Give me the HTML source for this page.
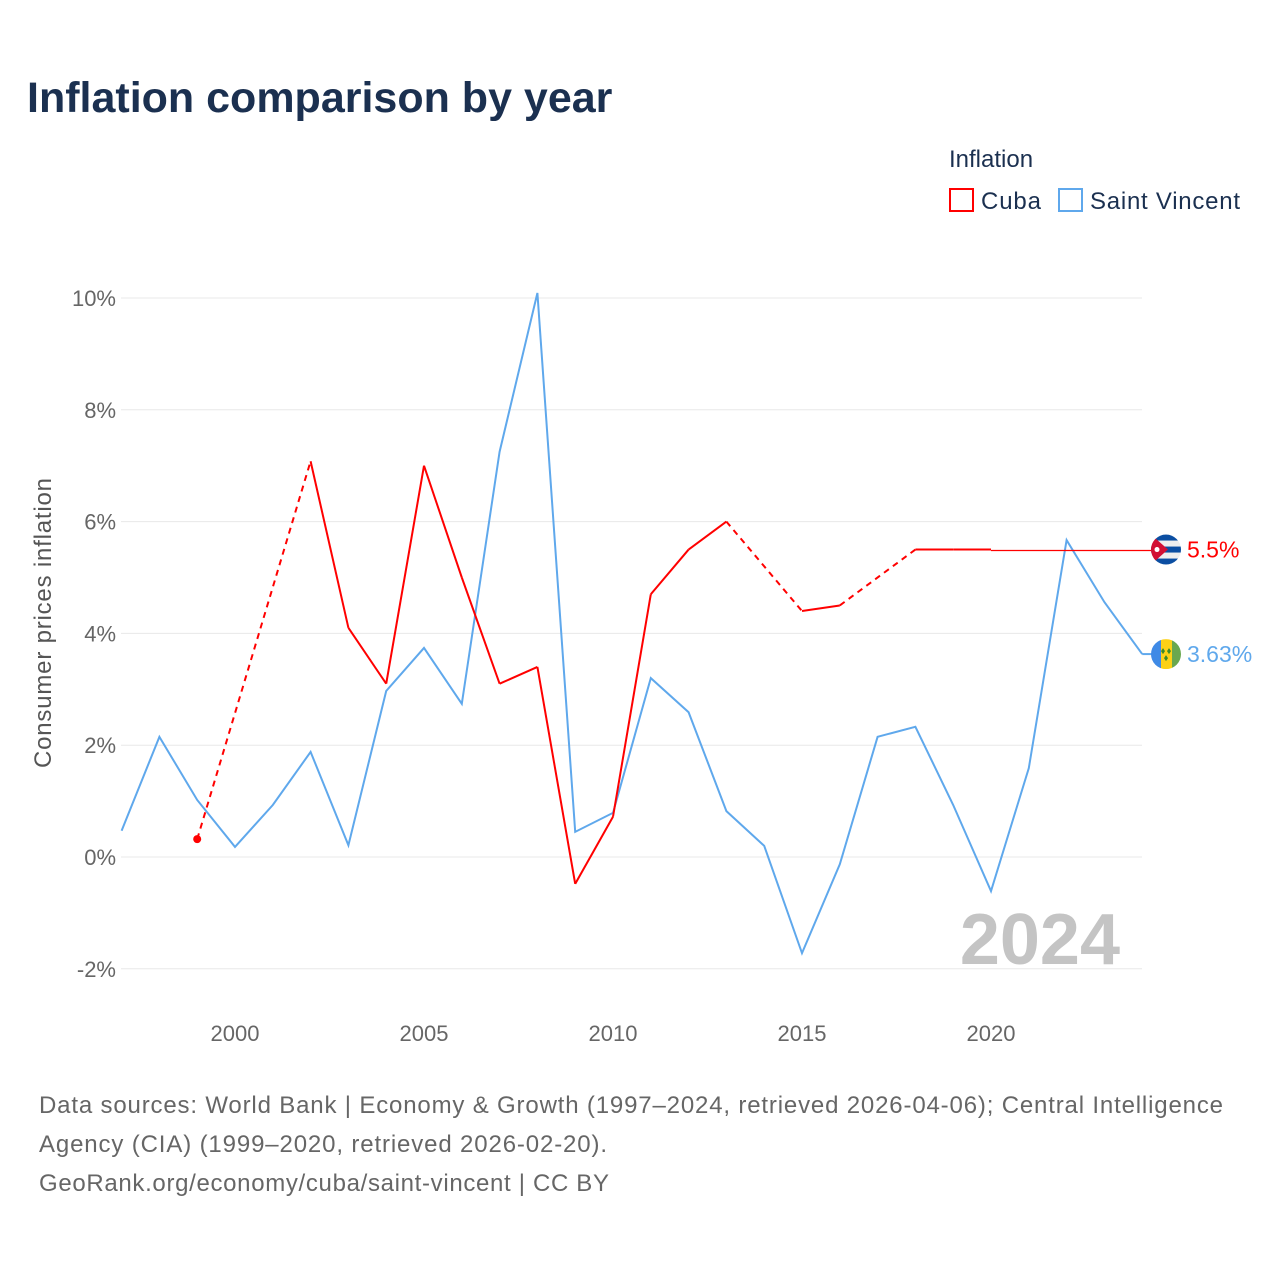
<!DOCTYPE html>
<html><head><meta charset="utf-8">
<style>
body{margin:0;background:#fff;font-family:"Liberation Sans",sans-serif;}
svg{display:block}
</style></head>
<body>
<svg id="chart" width="1280" height="1280" viewBox="0 0 1280 1280">
<text x="27" y="112" font-size="43" font-weight="bold" fill="#1b3050">Inflation comparison by year</text>
<text x="949" y="167" font-size="24" fill="#1b3050">Inflation</text>
<g><rect x="950" y="189" width="23" height="22" fill="none" stroke="#f00" stroke-width="2"/><text x="981" y="209" font-size="24" fill="#1b3050" textLength="60">Cuba</text></g>
<g><rect x="1059" y="189" width="23" height="22" fill="none" stroke="#5fa8ec" stroke-width="2"/><text x="1090" y="209" font-size="24" fill="#1b3050" textLength="150">Saint Vincent</text></g>
<text transform="translate(51,623) rotate(-90)" text-anchor="middle" font-size="24" fill="#555" textLength="290">Consumer prices inflation</text>
<g id="grid"></g><g id="marks"></g>
<text x="1120" y="964" text-anchor="end" font-size="72" font-weight="bold" fill="#c4c4c4">2024</text>
<g font-size="24" fill="#666">
<text x="39" y="1113" textLength="1184">Data sources: World Bank | Economy &amp; Growth (1997–2024, retrieved 2026-04-06); Central Intelligence</text>
<text x="39" y="1152" textLength="568">Agency (CIA) (1999–2020, retrieved 2026-02-20).</text>
<text x="39" y="1191" textLength="570">GeoRank.org/economy/cuba/saint-vincent | CC BY</text>
</g>
</svg>
<script>
const years=[1997,1998,1999,2000,2001,2002,2003,2004,2005,2006,2007,2008,2009,2010,2011,2012,2013,2014,2015,2016,2017,2018,2019,2020,2021,2022,2023,2024];
const svgValues=[0.47,2.15,1.02,0.18,0.93,1.88,0.21,2.97,3.74,2.74,7.25,10.09,0.45,0.79,3.2,2.59,0.82,0.2,-1.72,-0.13,2.15,2.33,0.93,-0.61,1.59,5.67,4.56,3.63];
const cubaValues=[null,null,0.32,null,null,7.08,4.1,3.1,7.0,5.0,3.1,3.4,-0.48,0.72,4.7,5.5,6.0,null,4.4,4.5,null,5.5,5.5,5.5,null,null,null,null];
const yTicks=[-2,0,2,4,6,8,10];
const yTickLabels=["-2%","0%","2%","4%","6%","8%","10%"];
const xTicks=[2000,2005,2010,2015,2020];
const NS="http://www.w3.org/2000/svg";
const X=y=>235+(y-2000)*37.8;
const Y=v=>857-v*55.9;
function el(tag,attrs,parent){const e=document.createElementNS(NS,tag);for(const k in attrs)e.setAttribute(k,attrs[k]);parent.appendChild(e);return e;}
const grid=document.getElementById('grid'),marks=document.getElementById('marks');
yTicks.forEach((t,i)=>{
 const l=el('line',{x1:121,x2:1142,y1:Y(t),y2:Y(t),stroke:'#e8e8e8','stroke-width':1},grid);
 
 
 const tx=el('text',{x:116,y:Y(t)+8,'text-anchor':'end','font-size':22,fill:'#666'},grid);
 tx.textContent=yTickLabels[i];
 
 
});
xTicks.forEach(t=>{
 const tx=el('text',{x:X(t),y:1041,'text-anchor':'middle','font-size':22,fill:'#666'},grid);
 tx.textContent=t;
 
 
});
const sv=el('polyline',{points:years.map((y,i)=>X(y)+','+Y(svgValues[i])).join(' '),fill:'none',stroke:'#5fa8ec','stroke-width':2},marks);


const pts=[];years.forEach((y,i)=>{if(cubaValues[i]!==null)pts.push([i,X(y),Y(cubaValues[i])]);});
for(let k=1;k<pts.length;k++){
 const a=pts[k-1],b=pts[k];
 const gap=b[0]-a[0]>1;
 const s=el('line',{x1:a[1],y1:a[2],x2:b[1],y2:b[2],stroke:'#f00','stroke-width':2,'stroke-dasharray':gap?'6,5':'none'},marks);
 
 
}
const first=pts[0];
const dot=el('circle',{cx:first[1],cy:first[2],r:4,fill:'#f00'},marks);


const last=pts[pts.length-1];
const ly=Math.round(last[2])+0.5;
const ext=el('line',{x1:last[1],y1:ly,x2:1152,y2:ly,stroke:'#ff0000','stroke-width':1.2},marks);


const svLast=svgValues[svgValues.length-1];
const svExt=el('line',{x1:X(2024),y1:Y(svLast),x2:1152,y2:Y(svLast),stroke:'#5fa8ec','stroke-width':2},marks);


function cubaFlag(cx,cy){
 const g=el('g',{},marks);
 
 
 const cp=el('clipPath',{id:'cc'},g);el('circle',{cx,cy,r:15},cp);
 const gg=el('g',{'clip-path':'url(#cc)'},g);
 el('rect',{x:cx-15,y:cy-15,width:30,height:30,fill:'#eee'},gg);
 [-15,-3,9].forEach(o=>el('rect',{x:cx-15,y:cy+o,width:30,height:6,fill:'#0b4ea2'},gg));
 el('polygon',{points:`${cx-15},${cy-15} ${cx+2},${cy} ${cx-15},${cy+15}`,fill:'#d21034'},gg);
 el('circle',{cx:cx-9,cy,r:2.5,fill:'#fff'},gg);
}
function svFlag(cx,cy){
 const g=el('g',{},marks);
 
 
 const cp=el('clipPath',{id:'sc'},g);el('circle',{cx,cy,r:15},cp);
 const gg=el('g',{'clip-path':'url(#sc)'},g);
 el('rect',{x:cx-15,y:cy-15,width:10,height:30,fill:'#3f8ae6'},gg);
 el('rect',{x:cx-5,y:cy-15,width:11,height:30,fill:'#fcd116'},gg);
 el('rect',{x:cx+6,y:cy-15,width:10,height:30,fill:'#6aa84f'},gg);
 [[-3,-3],[3,-3],[0,4]].forEach(d=>el('polygon',{points:`${cx+d[0]},${cy+d[1]-3} ${cx+d[0]+2},${cy+d[1]} ${cx+d[0]},${cy+d[1]+3} ${cx+d[0]-2},${cy+d[1]}`,fill:'#3a8a2a'},gg));
}
cubaFlag(1166,Y(5.5));svFlag(1166,Y(svLast));
const l1=el('text',{x:1187,y:Y(5.5)+8,'font-size':23,fill:'#f00'},marks);l1.textContent='5.5%';


const l2=el('text',{x:1187,y:Y(svLast)+8,'font-size':23,fill:'#5fa8ec'},marks);l2.textContent=svLast+'%';


</script>
</body></html>
